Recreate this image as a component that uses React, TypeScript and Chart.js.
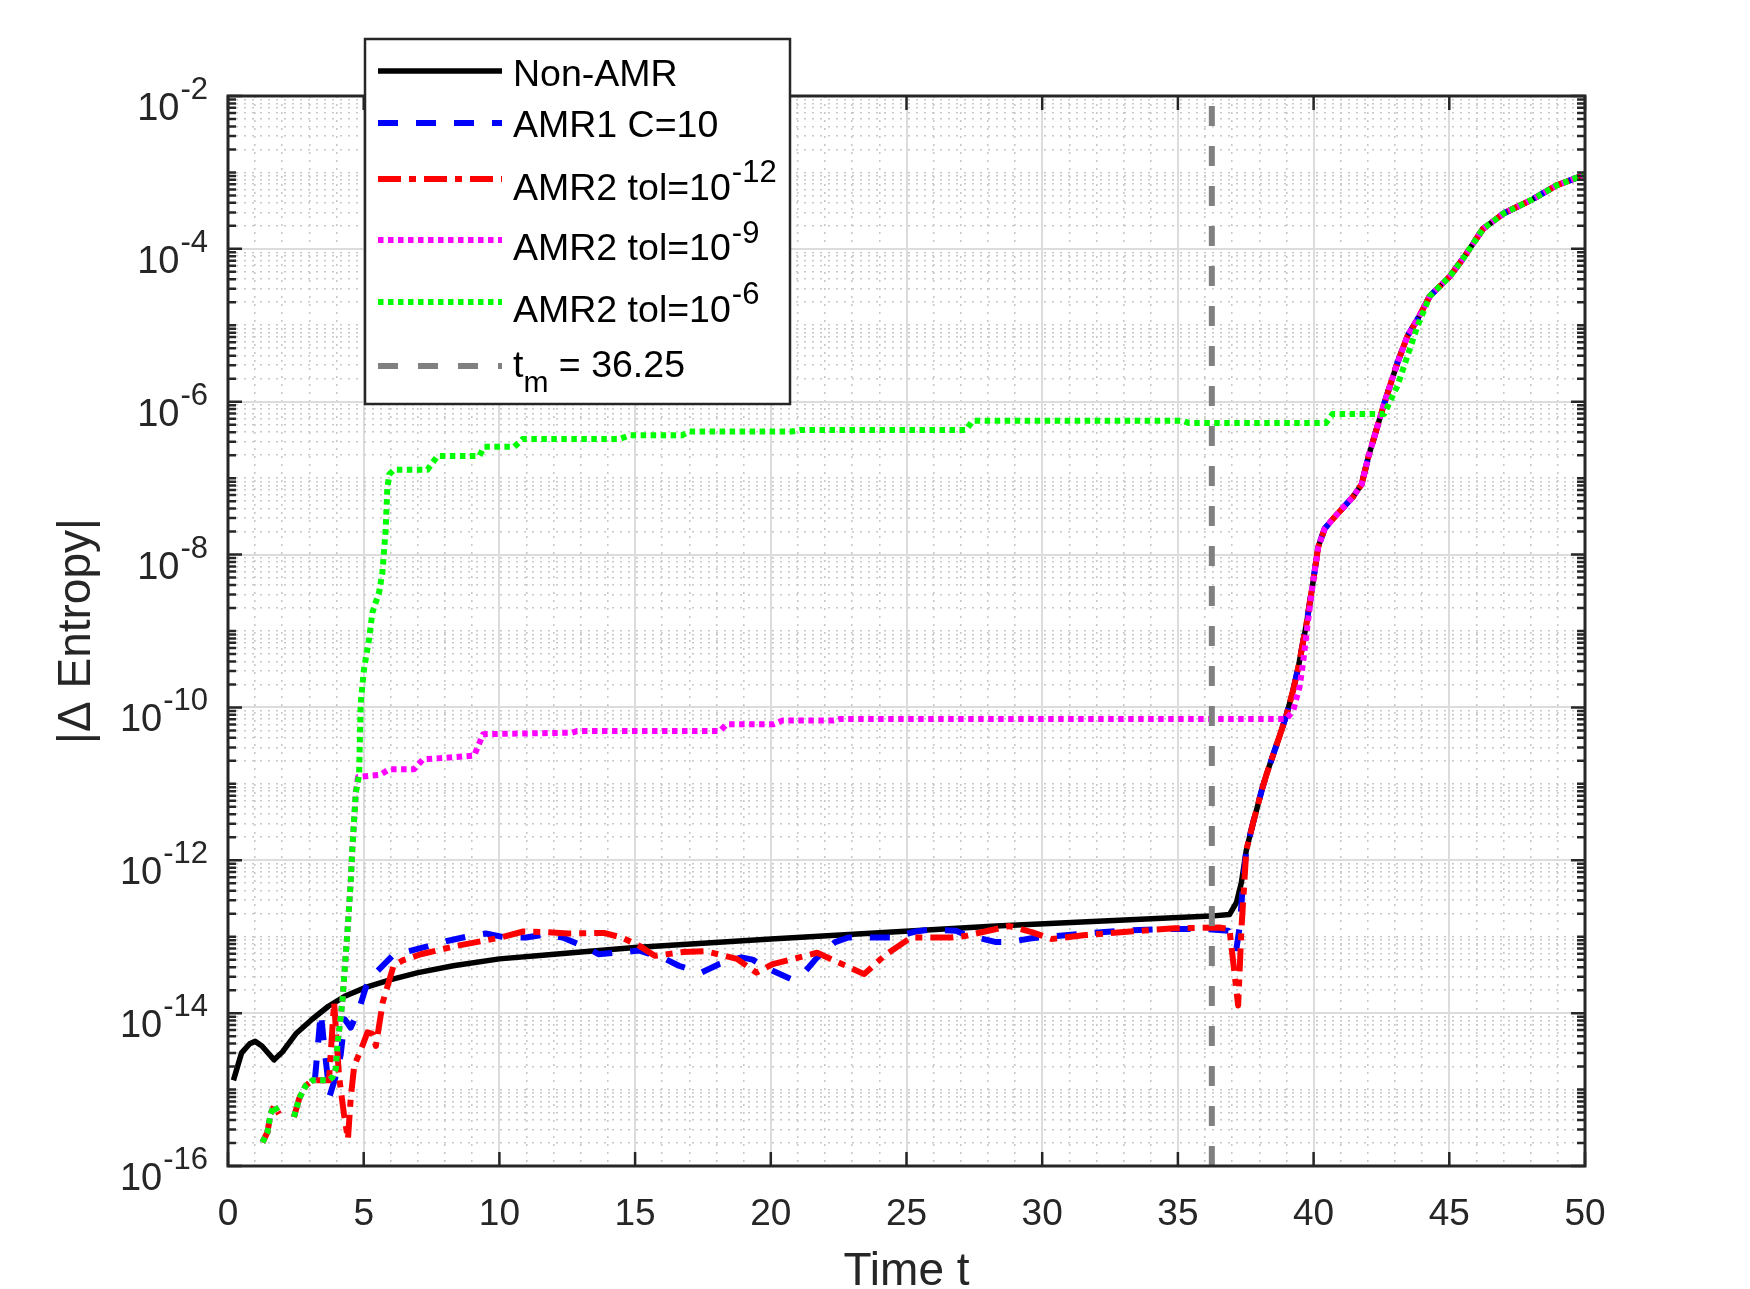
import React, { useEffect, useRef } from 'react';
import { Chart, registerables } from 'chart.js';

Chart.register(...registerables);

// ---------------- data ----------------
const xTickValues = [0, 5, 10, 15, 20, 25, 30, 35, 40, 45, 50];
const xMinorStep = 1;
const yTickValues = [1e-16, 1e-14, 1e-12, 1e-10, 1e-8, 1e-6, 1e-4, 1e-2];
const yTickExponents = ['-16', '-14', '-12', '-10', '-8', '-6', '-4', '-2'];
const yMinorMantissas = [2, 3, 4, 5, 6, 7, 8, 9];
const yDecadeExponents = [-16, -15, -14, -13, -12, -11, -10, -9, -8, -7, -6, -5, -4, -3];

const tMarker = 36.25;

// Non-AMR (before the common growth phase)
const nonAmrT = [0.2, 0.5, 0.8, 1.0, 1.25, 1.7, 2.0, 2.5, 3.1, 3.7, 4.3, 5.1, 6.0, 7.0, 8.3, 10.0, 11.7, 13.0, 15.0, 20.0, 28.3, 36.2, 36.9, 37.16, 37.34];
const nonAmrV = [1.32e-15, 3.02e-15, 3.98e-15, 4.27e-15, 3.72e-15, 2.45e-15, 3.09e-15, 5.37e-15, 8.32e-15, 1.23e-14, 1.66e-14, 2.19e-14, 2.75e-14, 3.39e-14, 4.17e-14, 5.13e-14, 5.75e-14, 6.31e-14, 7.24e-14, 9.33e-14, 1.38e-13, 1.86e-13, 1.95e-13, 2.82e-13, 5.13e-13];

// AMR1 C=10
const amr1T = [3.2, 3.42, 3.55, 3.75, 3.95, 4.15, 4.3, 4.52, 4.83, 5.08, 5.45, 6.06, 6.55, 7.41, 8.03, 8.89, 9.5, 10.24, 10.98, 11.71, 12.33, 13.32, 13.65, 14.63, 15.13, 16.11, 16.61, 17.43, 18.09, 18.92, 19.33, 19.9, 20.72, 21.3, 21.71, 22.37, 22.86, 24.51, 25.34, 25.83, 26.82, 27.15, 28.3, 28.79, 29.61, 31.59, 32.91, 34.55, 36.04, 36.86, 37.16, 37.28, 37.4];
const amr1V = [1.32e-15, 1.02e-14, 3.55e-15, 8.32e-16, 1.41e-15, 2.82e-15, 8.32e-15, 6.46e-15, 1.12e-14, 2.19e-14, 3.39e-14, 5.62e-14, 6.31e-14, 7.59e-14, 8.71e-14, 1.02e-13, 1.10e-13, 9.77e-14, 9.77e-14, 1.07e-13, 9.77e-14, 6.92e-14, 5.89e-14, 6.31e-14, 6.61e-14, 5.13e-14, 4.17e-14, 3.39e-14, 4.37e-14, 5.37e-14, 5.01e-14, 3.80e-14, 2.82e-14, 3.63e-14, 5.37e-14, 8.51e-14, 9.77e-14, 9.77e-14, 1.17e-13, 1.23e-13, 1.20e-13, 1.07e-13, 8.51e-14, 8.51e-14, 9.55e-14, 1.10e-13, 1.20e-13, 1.26e-13, 1.26e-13, 1.20e-13, 7.08e-14, 1.38e-13, 5.13e-13];

// start shared by the three AMR2 runs (null = zero value, not drawn on log axis)
const amr2StartT = [1.27, 1.45, 1.57, 1.70, 1.88, 2.15, 2.43, 2.62, 2.86, 3.11, 3.72];
const amr2StartV = [2.04e-16, 2.75e-16, 4.79e-16, 6.17e-16, 4.79e-16, null, 4.37e-16, 7.59e-16, 1.12e-15, 1.32e-15, 1.32e-15];

// AMR2 tol=1e-12
const amr2aT = [3.91, 4.09, 4.28, 4.42, 4.52, 4.65, 4.95, 5.14, 5.32, 5.45, 5.7, 6.1, 6.44, 7.1, 8.41, 10.06, 10.88, 11.7, 12.53, 13.85, 14.5, 15.16, 15.72, 16.77, 17.6, 18.75, 19.47, 20.07, 21.71, 23.44, 24.18, 25.17, 26.65, 27.15, 28.79, 29.61, 30.35, 31.59, 33.24, 34.88, 36.53, 36.9, 37.22, 37.34];
const amr2aV = [1.38e-14, 1.51e-15, 4.57e-16, 2.24e-16, 7.59e-16, 2.04e-15, 3.72e-15, 5.62e-15, 5.37e-15, 3.72e-15, 1.38e-14, 4.17e-14, 4.90e-14, 5.89e-14, 7.59e-14, 9.77e-14, 1.17e-13, 1.15e-13, 1.10e-13, 1.12e-13, 9.77e-14, 7.59e-14, 5.62e-14, 6.31e-14, 6.46e-14, 5.13e-14, 3.39e-14, 4.37e-14, 6.17e-14, 3.24e-14, 5.62e-14, 9.77e-14, 9.77e-14, 1.02e-13, 1.38e-13, 1.15e-13, 9.33e-14, 1.05e-13, 1.17e-13, 1.29e-13, 1.32e-13, 1.26e-13, 1.26e-14, 1.26e-13];

// rise shared by tol=1e-9 and tol=1e-6
const amr2RiseT = [3.85, 3.97, 4.03, 4.16, 4.22, 4.40, 4.52, 4.58, 4.71];
const amr2RiseV = [1.45e-15, 1.86e-15, 3.80e-15, 9.33e-15, 1.51e-14, 1.15e-13, 5.13e-13, 1.41e-12, 7.76e-12];

// AMR2 tol=1e-9
const amr2bT = [4.79, 5.62, 5.94, 6.85, 7.18, 9.07, 9.40, 12.68, 12.86, 18.12, 18.37, 20.1, 20.43, 22.32, 22.57, 39.0, 39.25, 39.49, 39.62, 39.80];
const amr2bV = [1.23e-11, 1.32e-11, 1.55e-11, 1.55e-11, 2.09e-11, 2.34e-11, 4.47e-11, 4.68e-11, 4.90e-11, 4.90e-11, 6.03e-11, 6.03e-11, 6.76e-11, 6.76e-11, 7.08e-11, 7.08e-11, 9.12e-11, 1.91e-10, 4.07e-10, 1.41e-9];

// AMR2 tol=1e-6
const amr2cT = [4.83, 4.89, 5.01, 5.2, 5.32, 5.57, 5.69, 5.81, 5.87, 5.94, 6.12, 7.35, 7.72, 9.26, 9.44, 10.55, 10.85, 14.42, 14.79, 16.73, 16.97, 20.76, 21.1, 27.2, 27.43, 35.2, 35.4, 40.45, 40.7, 42.6, 43.09, 43.46, 43.83];
const amr2cV = [1.29e-11, 1.15e-10, 3.16e-10, 7.94e-10, 1.74e-9, 3.24e-9, 5.89e-9, 2.14e-8, 7.24e-8, 1.12e-7, 1.29e-7, 1.29e-7, 1.95e-7, 1.95e-7, 2.57e-7, 2.57e-7, 3.24e-7, 3.24e-7, 3.63e-7, 3.63e-7, 4.07e-7, 4.07e-7, 4.27e-7, 4.27e-7, 5.62e-7, 5.62e-7, 5.25e-7, 5.25e-7, 6.92e-7, 6.92e-7, 1.62e-6, 3.98e-6, 9.77e-6];

// common growth phase (all runs coincide)
const growthT = [37.52, 37.77, 38.1, 38.28, 38.75, 39.0, 39.25, 39.45, 39.74, 39.98, 40.17, 40.41, 40.72, 41.46, 41.77, 42.02, 42.58, 43.09, 43.46, 43.83, 44.28, 45.02, 45.5, 46.24, 46.98, 48.08, 48.95, 50.0];
const growthV = [1.35e-12, 3.09e-12, 8.51e-12, 1.38e-11, 4.27e-11, 7.94e-11, 1.70e-10, 3.55e-10, 1.26e-9, 4.37e-9, 1.26e-8, 2.19e-8, 2.95e-8, 5.75e-8, 8.32e-8, 1.91e-7, 8.91e-7, 3.24e-6, 7.24e-6, 1.20e-5, 2.40e-5, 4.37e-5, 7.41e-5, 1.82e-4, 2.88e-4, 4.47e-4, 6.76e-4, 9.33e-4];

const seriesLabels = ['Non-AMR', 'AMR1 C=10', 'AMR2 tol=10^-12', 'AMR2 tol=10^-9', 'AMR2 tol=10^-6', 't_m = 36.25'];

// ---------------- styles ----------------
const FONT = '"Liberation Sans", Arial, Helvetica, sans-serif';
const AXIS_COLOR = '#262626';
const GRID_MAJOR = '#dcdcdc';
const GRID_MINOR = '#c8c8c8';

const pts = (ts: number[], vs: (number | null)[]) => ts.map((t, i) => ({ x: t, y: vs[i] }));
const growthAfter = (t0: number) => pts(growthT, growthV).filter((p) => p.x > t0);

function buildDatasets() {
  return [
    {
      label: seriesLabels[0],
      data: [...pts(nonAmrT, nonAmrV), ...growthAfter(37.34)],
      borderColor: '#000000',
      borderWidth: 5.5,
      borderDash: [],
      order: 5,
    },
    {
      label: seriesLabels[1],
      data: [...pts(amr1T, amr1V), ...growthAfter(37.4)],
      borderColor: '#0000ff',
      borderWidth: 6,
      borderDash: [20, 18],
      order: 4,
    },
    {
      label: seriesLabels[2],
      data: [...pts(amr2StartT, amr2StartV), ...pts(amr2aT, amr2aV), ...growthAfter(37.34)],
      borderColor: '#ff0000',
      borderWidth: 6,
      borderDash: [23, 8, 7, 8],
      order: 3,
    },
    {
      label: seriesLabels[3],
      data: [...pts(amr2StartT, amr2StartV), ...pts(amr2RiseT, amr2RiseV), ...pts(amr2bT, amr2bV), ...growthAfter(39.8)],
      borderColor: '#ff00ff',
      borderWidth: 6,
      borderDash: [5.5, 4.5],
      order: 2,
    },
    {
      label: seriesLabels[4],
      data: [...pts(amr2StartT, amr2StartV), ...pts(amr2RiseT, amr2RiseV), ...pts(amr2cT, amr2cV), ...growthAfter(43.83)],
      borderColor: '#00ff00',
      borderWidth: 6,
      borderDash: [5.5, 4.5],
      order: 1,
    },
    {
      label: seriesLabels[5],
      data: [
        { x: tMarker, y: 1e-16 },
        { x: tMarker, y: 1e-2 },
      ],
      borderColor: '#808080',
      borderWidth: 6,
      borderDash: [20, 20],
      order: 0,
    },
  ].map((d) => ({
    ...d,
    pointRadius: 0,
    fill: false,
    tension: 0,
    spanGaps: false,
    borderCapStyle: 'butt',
    borderJoinStyle: 'round',
  }));
}

// legend layout (MATLAB-style box)
const LEG = { left: 365, top: 39, right: 790, bottom: 404, lineX0: 378, lineX1: 502, textX: 513 };
const legendRows = [
  { text: 'Non-AMR', lineY: 71, baseY: 86 },
  { text: 'AMR1 C=10', lineY: 123, baseY: 137 },
  { text: 'AMR2 tol=10', sup: '-12', lineY: 179, baseY: 200, supY: 182 },
  { text: 'AMR2 tol=10', sup: '-9', lineY: 240, baseY: 260, supY: 243 },
  { text: 'AMR2 tol=10', sup: '-6', lineY: 302, baseY: 322, supY: 304 },
  { text: 't', sub: 'm', after: ' = 36.25', lineY: 366, baseY: 377, subY: 392 },
];

const MAJOR_TICK = 14;
const MINOR_TICK = 8;
const Y_LABEL_RIGHT = 208;

const decorPlugin = {
  id: 'matlabDecor',
  afterDatasetsDraw(chart: any) {
    const { ctx, chartArea } = chart;
    const { left, right, top, bottom } = chartArea;
    const xs = chart.scales.x;
    const ys = chart.scales.y;
    const ym = chart.scales.yMinor;
    ctx.save();
    ctx.setLineDash([]);
    ctx.strokeStyle = AXIS_COLOR;
    ctx.lineWidth = 2.5;
    ctx.beginPath();
    ys.ticks.forEach((t: any) => {
      const p = ys.getPixelForValue(t.value);
      ctx.moveTo(left, p);
      ctx.lineTo(left + MAJOR_TICK, p);
      ctx.moveTo(right, p);
      ctx.lineTo(right - MAJOR_TICK, p);
    });
    ym.ticks.forEach((t: any) => {
      const p = ym.getPixelForValue(t.value);
      ctx.moveTo(left, p);
      ctx.lineTo(left + MINOR_TICK, p);
      ctx.moveTo(right, p);
      ctx.lineTo(right - MINOR_TICK, p);
    });
    xs.ticks.forEach((t: any) => {
      const p = xs.getPixelForValue(t.value);
      ctx.moveTo(p, bottom);
      ctx.lineTo(p, bottom - MAJOR_TICK);
      ctx.moveTo(p, top);
      ctx.lineTo(p, top + MAJOR_TICK);
    });
    ctx.stroke();
    ctx.lineWidth = 3;
    ctx.strokeRect(left, top, right - left, bottom - top);

    // y tick labels 10^k
    ctx.fillStyle = AXIS_COLOR;
    ctx.textBaseline = 'alphabetic';
    ctx.textAlign = 'right';
    ys.ticks.forEach((t: any, i: number) => {
      const p = ys.getPixelForValue(t.value);
      const e = yTickExponents[i];
      ctx.font = `31px ${FONT}`;
      const w = ctx.measureText(e).width;
      ctx.fillText(e, Y_LABEL_RIGHT, p + 3);
      ctx.font = `38px ${FONT}`;
      ctx.fillText('10', Y_LABEL_RIGHT - w - 1, p + 24);
    });
    ctx.restore();
  },
  afterDraw(chart: any) {
    const { ctx } = chart;
    ctx.save();
    ctx.fillStyle = '#ffffff';
    ctx.fillRect(LEG.left, LEG.top, LEG.right - LEG.left, LEG.bottom - LEG.top);
    ctx.setLineDash([]);
    ctx.strokeStyle = AXIS_COLOR;
    ctx.lineWidth = 2.5;
    ctx.strokeRect(LEG.left, LEG.top, LEG.right - LEG.left, LEG.bottom - LEG.top);
    legendRows.forEach((row: any, i: number) => {
      const ds = chart.data.datasets[i];
      ctx.strokeStyle = ds.borderColor;
      ctx.lineWidth = ds.borderWidth;
      ctx.lineCap = 'butt';
      ctx.setLineDash(ds.borderDash || []);
      ctx.beginPath();
      ctx.moveTo(LEG.lineX0, row.lineY);
      ctx.lineTo(LEG.lineX1, row.lineY);
      ctx.stroke();
      ctx.setLineDash([]);
      ctx.fillStyle = '#000000';
      ctx.textAlign = 'left';
      ctx.textBaseline = 'alphabetic';
      ctx.font = `37.5px ${FONT}`;
      ctx.fillText(row.text, LEG.textX, row.baseY);
      let x = LEG.textX + ctx.measureText(row.text).width;
      if (row.sup) {
        ctx.font = `31px ${FONT}`;
        ctx.fillText(row.sup, x + 1, row.supY);
      }
      if (row.sub) {
        ctx.font = `30px ${FONT}`;
        ctx.fillText(row.sub, x, row.subY);
        x += ctx.measureText(row.sub).width;
        ctx.font = `37.5px ${FONT}`;
        ctx.fillText(row.after, x, row.baseY);
      }
    });
    ctx.restore();
  },
};

export default function App() {
  const canvasRef = useRef<HTMLCanvasElement | null>(null);

  useEffect(() => {
    const canvas = canvasRef.current;
    if (!canvas) return;
    Chart.defaults.font.family = FONT;
    const chart = new Chart(canvas, {
      type: 'line',
      data: { datasets: buildDatasets() as any },
      options: {
        animation: false,
        responsive: false,
        devicePixelRatio: 1,
        events: [],
        layout: { padding: { top: 96, right: 165, bottom: 0, left: 0 } },
        plugins: {
          legend: { display: false },
          tooltip: { enabled: false },
          title: { display: false },
        },
        scales: {
          x: {
            type: 'linear',
            position: 'bottom',
            min: 0,
            max: 50,
            afterBuildTicks: (s: any) => {
              s.ticks = xTickValues.map((v) => ({ value: v }));
            },
            afterFit: (s: any) => {
              s.height = 123;
            },
            grid: { color: GRID_MAJOR, lineWidth: 2, drawTicks: false },
            border: { display: false },
            ticks: {
              font: { family: FONT, size: 37 },
              color: AXIS_COLOR,
              padding: 27,
              maxRotation: 0,
              autoSkip: false,
              callback: (v: any) => String(v),
            },
            title: {
              display: true,
              text: 'Time t',
              color: AXIS_COLOR,
              font: { family: FONT, size: 46, lineHeight: 0.74 },
              padding: { top: 0, bottom: 0 },
            },
          },
          xMinor: {
            type: 'linear',
            position: 'bottom',
            min: 0,
            max: 50,
            afterBuildTicks: (s: any) => {
              const ticks: any[] = [];
              for (let v = 0; v <= 50; v += xMinorStep) {
                if (!xTickValues.includes(v)) ticks.push({ value: v });
              }
              s.ticks = ticks;
            },
            afterFit: (s: any) => {
              s.height = 0;
            },
            grid: { color: GRID_MINOR, lineWidth: 1.6, drawTicks: false },
            border: { display: false, dash: [2, 6] },
            ticks: { display: false },
          },
          y: {
            type: 'logarithmic',
            position: 'left',
            min: 1e-16,
            max: 1e-2,
            afterBuildTicks: (s: any) => {
              s.ticks = yTickValues.map((v) => ({ value: v, major: true }));
            },
            afterFit: (s: any) => {
              s.width = 228;
            },
            grid: { color: GRID_MAJOR, lineWidth: 2, drawTicks: false },
            border: { display: false },
            ticks: { display: false },
            title: {
              display: true,
              text: '|\u0394 Entropy|',
              color: AXIS_COLOR,
              font: { family: FONT, size: 46 },
              padding: { top: 50, bottom: 0 },
            },
          },
          yMinor: {
            type: 'logarithmic',
            position: 'left',
            min: 1e-16,
            max: 1e-2,
            afterBuildTicks: (s: any) => {
              const ticks: any[] = [];
              yDecadeExponents.forEach((e) => {
                const dec = Math.pow(10, e);
                if (e % 2 !== 0) ticks.push({ value: dec });
                yMinorMantissas.forEach((m) => ticks.push({ value: m * dec }));
              });
              s.ticks = ticks;
            },
            afterFit: (s: any) => {
              s.width = 0;
            },
            grid: { color: GRID_MINOR, lineWidth: 1.6, drawTicks: false },
            border: { display: false, dash: [2, 6] },
            ticks: { display: false },
          },
        },
      } as any,
      plugins: [decorPlugin],
    });
    return () => chart.destroy();
  }, []);

  return (
    <div style={{ position: 'fixed', left: 0, top: 0, width: 1750, height: 1289, background: '#ffffff' }}>
      <canvas ref={canvasRef} width={1750} height={1289} style={{ display: 'block', width: 1750, height: 1289 }} />
    </div>
  );
}
